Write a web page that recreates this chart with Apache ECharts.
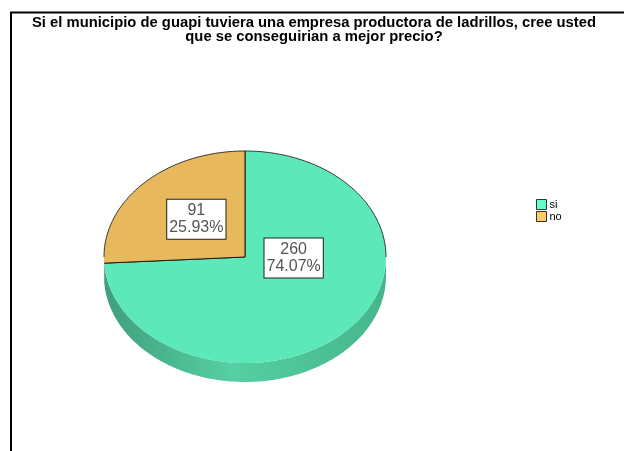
<!DOCTYPE html>
<html>
<head>
<meta charset="utf-8">
<script src="https://cdn.jsdelivr.net/npm/echarts@6/dist/echarts.min.js"></script>
<style>
  html, body { margin: 0; padding: 0; background: #fff; }
  #chart { width: 628px; height: 451px; }
</style>
</head>
<body>
<div id="chart"></div>
<script>
// datos
var categorias = ['si', 'no'];
var valores = [260, 91];

var coloresTapa = ['#5ce8b8', '#e8b85c'];
var coloresLado = [['#3f9f7c', '#55cfa3', '#46b68c'], ['#a07a36', '#cfa24e', '#b58a3d']];
var coloresLeyenda = ['#66ffcc', '#ffcc66'];

// elipse del pastel
var cx = 245, cy = 257, rx = 141, ry = 106, grosor = 19;
// posicion de las etiquetas (fraccion del radio)
var posEtiqueta = [[0.345, -0.01], [-0.345, 0.355]];

var total = valores.reduce(function (a, b) { return a + b; }, 0);

function punto(ang, dy) {
  var r = ang * Math.PI / 180;
  return [cx + rx * Math.cos(r), cy - ry * Math.sin(r) + (dy || 0)];
}

function arco(a0, a1, dy) {
  // de a0 hacia a1 (sentido horario, a1 < a0)
  var pts = [];
  var n = Math.max(2, Math.ceil(a0 - a1));
  for (var k = 0; k <= n; k++) {
    pts.push(punto(a0 - (a0 - a1) * k / n, dy));
  }
  return pts;
}

function tramo(a0, a1, lo, hi) {
  var s = Math.min(a0, hi), e = Math.max(a1, lo);
  return s > e ? [s, e] : null;
}

function dibujar(idx) {
  return function (params, api) {
    var antes = 0;
    for (var i = 0; i < idx; i++) antes += valores[i];
    var v = api.value(0);
    var a0 = 90 - 360 * antes / total;
    var a1 = a0 - 360 * v / total;
    var hijos = [];

    // lado (mitad frontal)
    var fr = tramo(a0, a1, -180, 0);
    if (fr) {
      var sup = arco(fr[0], fr[1], 0);
      var inf = arco(fr[0], fr[1], grosor).reverse();
      var c = coloresLado[idx];
      hijos.push({
        type: 'polygon',
        shape: { points: sup.concat(inf) },
        style: {
          fill: new echarts.graphic.LinearGradient(0, 0, 1, 0, [
            { offset: 0, color: c[0] },
            { offset: 0.45, color: c[1] },
            { offset: 1, color: c[2] }
          ], false),
          stroke: null
        }
      });
    }

    // tapa
    var tapa = [[cx, cy]].concat(arco(a0, a1, 0));
    hijos.push({
      type: 'polygon',
      shape: { points: tapa },
      style: { fill: coloresTapa[idx], stroke: null }
    });

    // bordes: radios y arco trasero
    hijos.push({
      type: 'polyline',
      shape: { points: [punto(a0), [cx, cy], punto(a1)] },
      style: { stroke: '#1a1a1a', lineWidth: 1, fill: null }
    });
    [tramo(a0, a1, 0, 180), tramo(a0, a1, -360, -180)].forEach(function (t) {
      if (!t) return;
      hijos.push({
        type: 'polyline',
        shape: { points: arco(t[0], t[1], 0) },
        style: { stroke: '#333', lineWidth: 1, fill: null }
      });
    });

    // etiqueta
    var pct = (100 * v / total).toFixed(2) + '%';
    hijos.push({
      type: 'text',
      x: cx + rx * posEtiqueta[idx][0],
      y: cy - ry * posEtiqueta[idx][1],
      style: {
        text: v + '\n' + pct,
        font: '16px "Liberation Sans", Arial, sans-serif',
        fill: '#555',
        align: 'center',
        verticalAlign: 'middle',
        lineHeight: 17,
        backgroundColor: '#fff',
        borderColor: '#222',
        borderWidth: 1,
        padding: [3, 2, 2, 2]
      }
    });

    return { type: 'group', children: hijos };
  };
}

var chart = echarts.init(document.getElementById('chart'));

var series = categorias.map(function (nombre, i) {
  return {
    type: 'custom',
    name: nombre,
    coordinateSystem: 'none',
    itemStyle: { color: coloresTapa[i] },
    renderItem: dibujar(i),
    data: [[valores[i]]],
    silent: true
  };
});

chart.setOption({
  animation: false,
  title: {
    text: 'Si el municipio de guapi tuviera una empresa productora de ladrillos, cree usted\nque se conseguirian a mejor precio?',
    left: 'center',
    top: 16,
    padding: 0,
    textStyle: {
      fontFamily: '"Liberation Sans", Arial, sans-serif',
      fontSize: 14.8,
      fontWeight: 'bold',
      color: '#000',
      lineHeight: 14,
      align: 'center'
    }
  },
  legend: {
    orient: 'vertical',
    left: 536,
    top: 199,
    padding: 0,
    itemWidth: 10,
    itemHeight: 10,
    itemGap: 1,
    icon: 'rect',
    selectedMode: false,
    textStyle: { fontFamily: '"Liberation Sans", Arial, sans-serif', fontSize: 11, color: '#000', padding: [0, 0, 0, -2] },
    data: categorias.map(function (n, i) {
      return { name: n, itemStyle: { color: coloresLeyenda[i], borderColor: '#333', borderWidth: 1 } };
    })
  },
  graphic: [{
    type: 'polyline',
    shape: { points: [[11, 451], [11, 12.5], [624, 12.5]] },
    style: { stroke: '#000', lineWidth: 2, fill: null }
  }],
  series: series
});
</script>
</body>
</html>
